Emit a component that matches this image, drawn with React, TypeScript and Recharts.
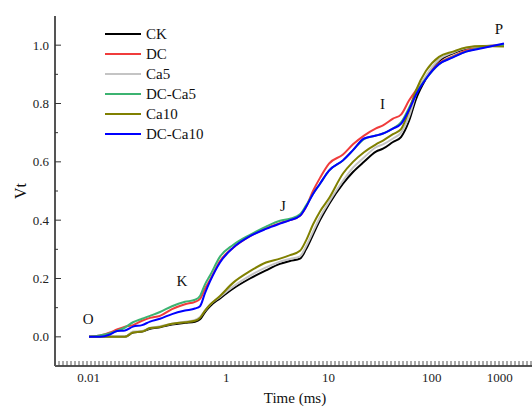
import { LineChart, Line, XAxis, YAxis, ReferenceDot, Legend } from "recharts";

const FONT = '"Liberation Serif", "Times New Roman", serif';

// position along the time axis, one unit = one minor tick
const POS = [
  8.5, 11.25, 13.75, 15.5, 17.5, 19.5, 21.75, 23.75, 26.25, 29.25, 32.5, 35,
  36.25, 37.5, 38.75, 41.25, 44.5, 48.75, 52.75, 56.25, 58.75, 61.25, 62.75,
  64.5, 66.25, 68.5, 72, 74.5, 77.25, 80.25, 82, 84.5, 86.5, 88.5, 90.25,
  92.75, 96, 99.5, 102.75, 107, 112.25,
];

const CK = [
  0, 0, 0, 0, 0, 0.015, 0.018, 0.028, 0.033, 0.042, 0.048, 0.052, 0.06, 0.085,
  0.105, 0.132, 0.165, 0.2, 0.228, 0.25, 0.26, 0.268, 0.3, 0.35, 0.4, 0.455,
  0.525, 0.565, 0.6, 0.635, 0.645, 0.668, 0.685, 0.74, 0.815, 0.885, 0.945,
  0.972, 0.988, 0.996, 1.0,
];
const DC = [
  0, 0.005, 0.015, 0.025, 0.035, 0.04, 0.055, 0.065, 0.072, 0.095, 0.112, 0.12,
  0.13, 0.165, 0.195, 0.26, 0.305, 0.345, 0.372, 0.39, 0.4, 0.415, 0.445, 0.5,
  0.545, 0.594, 0.625, 0.66, 0.69, 0.715, 0.725, 0.748, 0.762, 0.81, 0.845,
  0.89, 0.938, 0.962, 0.982, 0.995, 1.0,
];
const CA5 = [
  0, 0, 0, 0, 0, 0.018, 0.02, 0.03, 0.036, 0.045, 0.052, 0.058, 0.068, 0.09,
  0.11, 0.137, 0.172, 0.21, 0.238, 0.258, 0.267, 0.276, 0.31, 0.36, 0.41,
  0.462, 0.535, 0.58, 0.615, 0.65, 0.66, 0.68, 0.7, 0.755, 0.83, 0.895, 0.95,
  0.975, 0.99, 0.997, 1.0,
];
const DC_CA5 = [
  0, 0.005, 0.012, 0.02, 0.032, 0.05, 0.062, 0.072, 0.085, 0.105, 0.12, 0.127,
  0.14, 0.18, 0.21, 0.275, 0.315, 0.35, 0.378, 0.398, 0.405, 0.42, 0.45, 0.49,
  0.525, 0.57, 0.605, 0.64, 0.678, 0.69, 0.697, 0.715, 0.735, 0.785, 0.835,
  0.885, 0.935, 0.96, 0.978, 0.993, 1.0,
];
const CA10 = [
  0, 0, 0, 0, 0, 0.015, 0.018, 0.03, 0.034, 0.045, 0.05, 0.055, 0.065, 0.09,
  0.11, 0.14, 0.185, 0.225, 0.255, 0.268, 0.28, 0.295, 0.33, 0.385, 0.43,
  0.475, 0.56, 0.6, 0.633, 0.66, 0.673, 0.695, 0.712, 0.775, 0.845, 0.912,
  0.96, 0.978, 0.992, 0.997, 0.995,
];
const DC_CA10 = [
  0, 0, 0.008, 0.02, 0.022, 0.035, 0.04, 0.052, 0.062, 0.078, 0.09, 0.097,
  0.105, 0.15, 0.19, 0.255, 0.305, 0.345, 0.37, 0.388, 0.4, 0.415, 0.445, 0.49,
  0.525, 0.57, 0.605, 0.64, 0.68, 0.69, 0.697, 0.714, 0.73, 0.778, 0.83, 0.885,
  0.935, 0.958, 0.978, 0.99, 1.006,
];

const SERIES = [
  { name: "CK", values: CK, color: "#000000" },
  { name: "DC", values: DC, color: "#f03c3c" },
  { name: "Ca5", values: CA5, color: "#c4c4c4" },
  { name: "DC-Ca5", values: DC_CA5, color: "#3cb371" },
  { name: "Ca10", values: CA10, color: "#808000" },
  { name: "DC-Ca10", values: DC_CA10, color: "#0000ff" },
];

const XTICK_LABELS = ["0.01", "1", "10", "100", "1000"];
const XTICK_POS = [8.4, 42.8, 68.4, 94.2, 111.2];
const MINOR_TICKS = Array.from({ length: 119 }, (_, i) => i + 1);

const Y_TICKS = [0, 0.1, 0.2, 0.3, 0.4, 0.5, 0.6, 0.7, 0.8, 0.9, 1.0];

const MARK_LABELS = ["O", "K", "J", "I", "P"];
const MARK_POS = [8.3, 31.7, 57, 81.9, 111];
const MARK_V = [0.062, 0.19, 0.45, 0.797, 1.054];

const data = POS.map((pos, i) => {
  const row: Record<string, number> = { pos };
  SERIES.forEach((s) => (row[s.name] = s.values[i]));
  return row;
});

const renderXTick = (props: any) => {
  const { x, y, payload } = props;
  const li = XTICK_POS.indexOf(payload.value);
  if (li >= 0) {
    return (
      <text x={x} y={y + 16} textAnchor="middle" fontFamily={FONT} fontSize={13} fill="#222">
        {XTICK_LABELS[li]}
      </text>
    );
  }
  return <line x1={x} x2={x} y1={y} y2={y - 5} stroke="#444" strokeWidth={0.9} />;
};

const renderYTick = (props: any) => {
  const { x, y, payload } = props;
  const major = Math.round(payload.value * 10) % 2 === 0;
  if (!major) {
    return <line x1={x} x2={x + 3} y1={y} y2={y} stroke="#333" strokeWidth={1} />;
  }
  return (
    <g>
      <line x1={x} x2={x + 6} y1={y} y2={y} stroke="#333" strokeWidth={1} />
      <text x={x - 6} y={y + 4.5} textAnchor="end" fontFamily={FONT} fontSize={13} fill="#222">
        {payload.value.toFixed(1)}
      </text>
    </g>
  );
};

const renderLegend = () => (
  <div style={{ fontFamily: FONT, fontSize: 15, color: "#111" }}>
    {SERIES.map((s) => (
      <div key={s.name} style={{ display: "flex", alignItems: "center", height: 20 }}>
        <span style={{ width: 36, height: 2.5, background: s.color, marginRight: 5 }} />
        <span>{s.name}</span>
      </div>
    ))}
  </div>
);

export default function App() {
  return (
    <div
      style={{
        position: "absolute",
        left: 0,
        top: 0,
        width: 532,
        height: 407,
        overflow: "hidden",
        background: "#fff",
      }}
    >
      <LineChart width={545} height={407} data={data} margin={{ top: 16, right: 10, bottom: 0, left: 0 }}>
        <XAxis
          dataKey="pos"
          type="number"
          domain={[0, 120]}
          ticks={[...MINOR_TICKS, ...XTICK_POS]}
          interval={0}
          tickSize={0}
          tickMargin={0}
          tick={renderXTick}
          axisLine={{ stroke: "#555", strokeWidth: 2 }}
          height={41}
          allowDataOverflow
          label={{
            value: "Time (ms)",
            position: "insideBottom",
            offset: 4,
            fontFamily: FONT,
            fontSize: 15,
            fill: "#111",
          }}
        />
        <XAxis
          xAxisId="top"
          orientation="top"
          dataKey="pos"
          type="number"
          domain={[0, 120]}
          height={0}
          tick={false}
          tickLine={false}
          axisLine={{ stroke: "#666", strokeWidth: 1.5 }}
        />
        <YAxis
          type="number"
          domain={[-0.1, 1.1]}
          ticks={Y_TICKS}
          interval={0}
          tickSize={0}
          tickMargin={0}
          tick={renderYTick}
          axisLine={{ stroke: "#555", strokeWidth: 2 }}
          width={55}
          allowDataOverflow
          label={{
            value: "Vt",
            angle: -90,
            position: "insideLeft",
            offset: 20,
            fontFamily: FONT,
            fontSize: 16,
            fill: "#111",
            style: { textAnchor: "middle" },
          }}
        />
        <Legend
          content={renderLegend}
          layout="vertical"
          align="center"
          verticalAlign="middle"
          wrapperStyle={{ left: 105, top: 24, width: 130, height: 120 }}
        />
        {SERIES.map((s) => (
          <Line
            key={s.name}
            type="monotone"
            dataKey={s.name}
            stroke={s.color}
            strokeWidth={2}
            dot={false}
            isAnimationActive={false}
          />
        ))}
        {MARK_LABELS.map((m, i) => (
          <ReferenceDot
            key={m}
            x={MARK_POS[i]}
            y={MARK_V[i]}
            r={0}
            shape={(p: any) => (
              <text
                x={p.cx}
                y={p.cy + 5}
                textAnchor="middle"
                fontFamily={FONT}
                fontSize={15}
                fill="#111"
              >
                {m}
              </text>
            )}
          />
        ))}
      </LineChart>
    </div>
  );
}
